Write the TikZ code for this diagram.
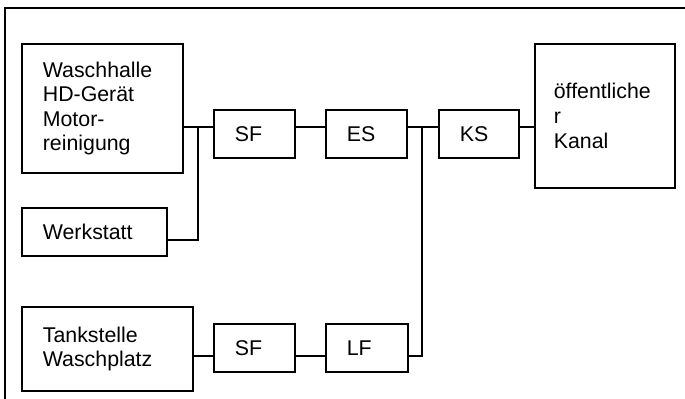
\documentclass[tikz,border=0pt]{standalone}
\usepackage{fontspec}
\setmainfont{Liberation Sans}
\usepackage{tikz}

\tikzset{
    block/.style={draw, line width=1.3pt, anchor=north west, align=left,
        inner xsep=15.75pt, inner ysep=2pt,
        font=\fontsize{16pt}{18.4pt}\selectfont},
    pipe/.style={line width=1.3pt}
}

\begin{document}
\begin{tikzpicture}[x=0.75pt, y=-0.75pt]
        \useasboundingbox (0,0) rectangle (685,399);
        % Frame
        \draw[pipe] (5,399) -- (5,8) -- (685,8);

        % Define nodes
        \node[block, text width=89.25pt, minimum height=96.75pt] (wash) at (21,43) {Waschhalle\\HD-Gerät\\Motor-\\reinigung};
        \node[block, text width=77.25pt, minimum height=36pt] (werk) at (21,207) {Werkstatt};
        \node[block, text width=96.75pt, minimum height=63pt] (tank) at (21,306) {Tankstelle\\Waschplatz};

        \node[block, text width=29.25pt, minimum height=36pt] (sf1) at (213,109) {SF};
        \node[block, text width=29.25pt, minimum height=36pt] (es) at (325,109) {ES};
        \node[block, text width=28.5pt, minimum height=36pt] (ks) at (438,109) {KS};
        \node[block, text width=76.5pt, minimum height=108pt, inner xsep=14.25pt] (kanal) at (534,43) {öffentliche\\r\\Kanal};

        \node[block, text width=29.25pt, minimum height=36pt] (sf2) at (213,323) {SF};
        \node[block, text width=30pt, minimum height=36pt] (lf) at (325,323) {LF};

        % Junctions
        \coordinate (j1) at (198,127);
        \coordinate (j2) at (422,127);
        \coordinate (j3) at (422,356);
        \coordinate (j4) at (198,240);

        % Draw edges
        \draw[pipe] (wash.east |- j1) -- (sf1.west |- j1);
        \draw[pipe] (werk.east |- j4) -- (j4) -- (j1);
        \draw[pipe] (sf1.east |- j1) -- (es.west |- j1);
        \draw[pipe] (es.east |- j1) -- (ks.west |- j1);
        \draw[pipe] (ks.east |- j1) -- (kanal.west |- j1);
        \draw[pipe] (j2) -- (j3) -- (lf.east |- j3);
        \draw[pipe] (tank.east |- j3) -- (sf2.west |- j3);
        \draw[pipe] (sf2.east |- j3) -- (lf.west |- j3);
\end{tikzpicture}
\end{document}
